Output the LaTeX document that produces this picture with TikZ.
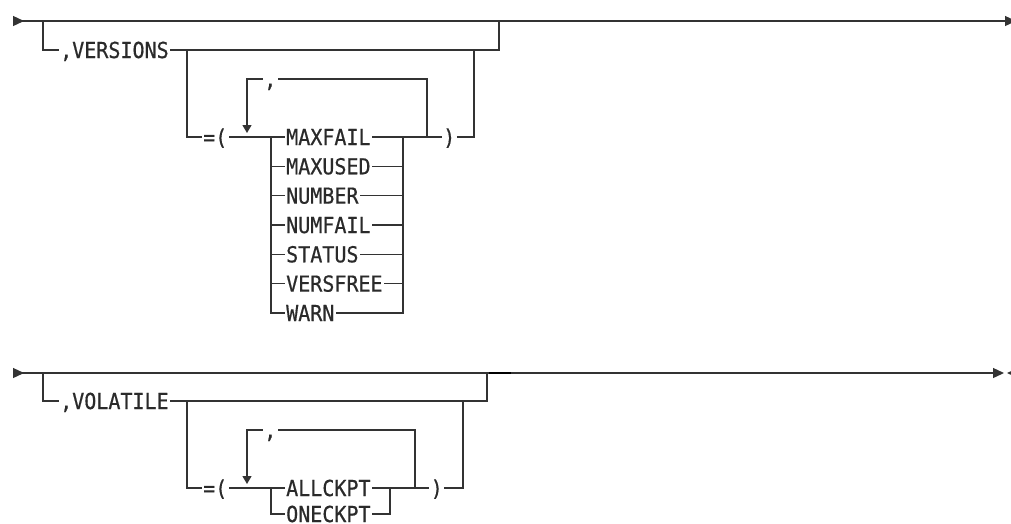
\documentclass[tikz,border=0pt]{standalone}
\usepackage{fontspec}
\newfontfamily\railfont[FakeBold=0.6, FakeStretch=0.91]{DejaVu Sans Mono}
\usetikzlibrary{arrows.meta}
\definecolor{rail}{HTML}{333333}
\definecolor{railtext}{HTML}{2A2A2A}

\begin{document}
\begin{tikzpicture}[
    x=1pt, y=-1pt,
    line/.style={draw=rail, line width=1.3pt},
    kw/.style={font=\railfont\fontsize{22}{24}\selectfont, text=railtext, anchor=west,
               inner xsep=1.5pt, inner ysep=0pt, text height=16pt, text depth=0pt},
    begintip/.style={{Triangle[reversed, length=11pt, width=10pt]}-},
    endtip/.style={-{Triangle[length=11pt, width=10pt]}},
    reptip/.style={-{Triangle[length=8pt, width=9pt]}}
]
\useasboundingbox (0,0) rectangle (1011,523);

% first diagram: VERSIONS
\coordinate (a1) at (13,21);
\coordinate (b1) at (43,21);
\coordinate (c1) at (499,21);
\coordinate (e1) at (1016,21);
\node[kw] (versions) at (58.5,50) {,VERSIONS};
\coordinate (d1) at (187,50);
\coordinate (f1) at (474,50);
\node[kw] (eq1)    at (201.5,137) {=(};
\node[kw] (close1) at (441.5,137) {)};
\node[kw] (comma1) at (262.5,79) {,};
\coordinate (g1) at (427,137);
\coordinate (h1) at (247,133);
\coordinate (j1) at (271,137);
\coordinate (k1) at (403,137);
\node[kw] (maxfail)  at (284.5,137)   {MAXFAIL};
\node[kw] (maxused)  at (284.5,166.3) {MAXUSED};
\node[kw] (number)   at (284.5,195.6) {NUMBER};
\node[kw] (numfail)  at (284.5,225)   {NUMFAIL};
\node[kw] (status)   at (284.5,254.3) {STATUS};
\node[kw] (versfree) at (284.5,283.6) {VERSFREE};
\node[kw] (warn)     at (284.5,313)   {WARN};

\draw[line, begintip] (a1) -- (b1);
\draw[line, endtip] (b1) -- (e1);
\draw[line] (b1) |- (versions.west);
\draw[line] (versions.east) -| (c1);
\draw[line] (d1) |- (eq1.west);
\draw[line] (eq1.east) -- (maxfail.west);
\draw[line] (maxfail.east) -- (close1.west);
\draw[line] (close1.east) -| (f1);
\draw[line] (g1) |- (comma1.east);
\draw[line, reptip] (comma1.west) -| (h1);
\draw[line] (j1) |- (maxused.west);
\draw[line] (j1) |- (number.west);
\draw[line] (j1) |- (numfail.west);
\draw[line] (j1) |- (status.west);
\draw[line] (j1) |- (versfree.west);
\draw[line] (j1) |- (warn.west);
\draw[line] (maxused.east) -| (k1);
\draw[line] (number.east) -| (k1);
\draw[line] (numfail.east) -| (k1);
\draw[line] (status.east) -| (k1);
\draw[line] (versfree.east) -| (k1);
\draw[line] (warn.east) -| (k1);

% second diagram: VOLATILE
\coordinate (a2) at (13,373);
\coordinate (b2) at (43,373);
\coordinate (c2) at (487,373);
\coordinate (e2) at (1004,373);
\coordinate (m2) at (489,373);
\coordinate (n2) at (511,373);
\node[kw] (volatile) at (58.5,401) {,VOLATILE};
\coordinate (d2) at (187,401);
\coordinate (f2) at (463,401);
\node[kw] (eq2)    at (201.5,488) {=(};
\node[kw] (close2) at (429,488) {)};
\node[kw] (comma2) at (262.5,430) {,};
\coordinate (g2) at (415,488);
\coordinate (h2) at (247,484);
\coordinate (j2) at (271,488);
\coordinate (k2) at (390,488);
\node[kw] (allckpt) at (284.5,488)   {ALLCKPT};
\node[kw] (oneckpt) at (284.5,514)   {ONECKPT};

\draw[line, begintip] (a2) -- (b2);
\draw[line, endtip] (b2) -- (e2);
\draw[line, line width=2.4pt, draw=black] (m2) -- (n2);
\fill[rail] (1007,373) -- (1018,368) -- (1018,378) -- cycle;
\draw[line] (b2) |- (volatile.west);
\draw[line] (volatile.east) -| (c2);
\draw[line] (d2) |- (eq2.west);
\draw[line] (eq2.east) -- (allckpt.west);
\draw[line] (allckpt.east) -- (close2.west);
\draw[line] (close2.east) -| (f2);
\draw[line] (g2) |- (comma2.east);
\draw[line, reptip] (comma2.west) -| (h2);
\draw[line] (j2) |- (oneckpt.west);
\draw[line] (oneckpt.east) -| (k2);

\end{tikzpicture}
\end{document}
